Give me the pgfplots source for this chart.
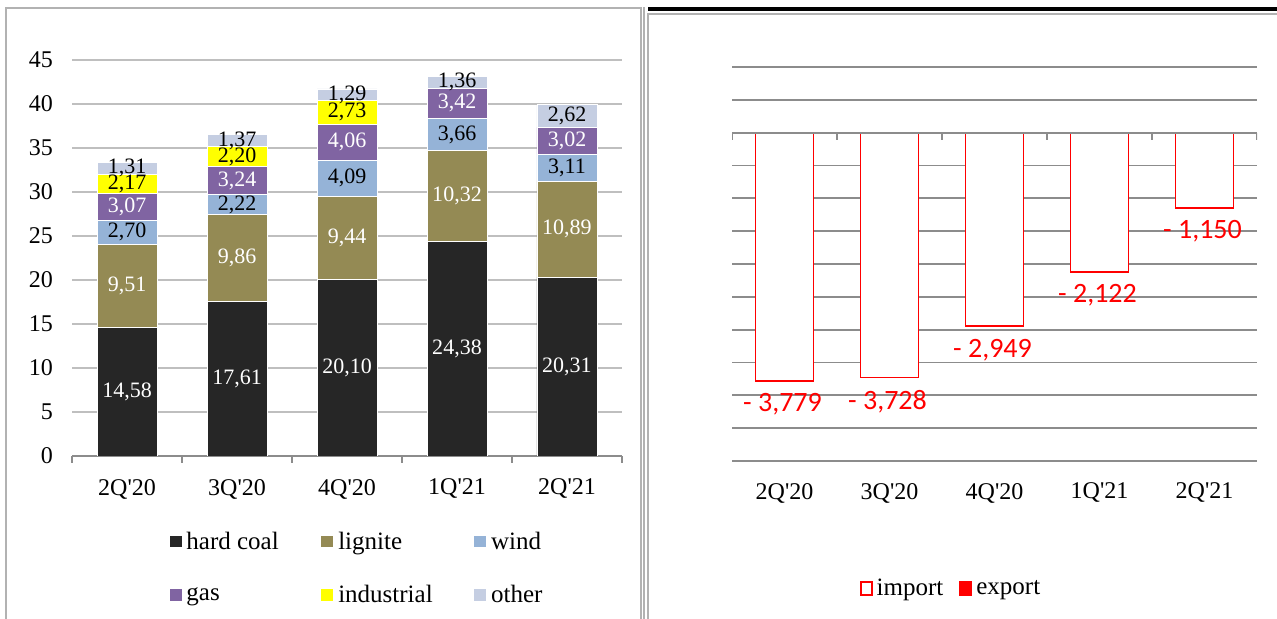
\documentclass[border=0pt]{standalone}
\usepackage{fontspec}
\setmainfont{Liberation Serif}
\newfontfamily\carlito{Carlito}
\usepackage{pgfplots}
\usepackage{pgfplotstable}
\pgfplotsset{compat=1.18}
\definecolor{hc}{HTML}{262626}
\definecolor{lig}{HTML}{948A54}
\definecolor{wind}{HTML}{95B3D7}
\definecolor{gas}{HTML}{8064A2}
\definecolor{ind}{HTML}{FFFF00}
\definecolor{oth}{HTML}{C5CEE2}
\definecolor{gridl}{HTML}{BFBFBF}
\definecolor{gridr}{HTML}{8C8C8C}

\pgfplotstableread{
x hc lig wind gas ind oth
0 14.58 9.51 2.70 3.07 2.17 1.31
1 17.61 9.86 2.22 3.24 2.20 1.37
2 20.10 9.44 4.09 4.06 2.73 1.29
3 24.38 10.32 3.66 3.42 0 1.36
4 20.31 10.89 3.11 3.02 0 2.62
}\mix

% label positions (segment midpoints) and texts
\pgfplotstableread{
x y lab
0 7.29 14,58
1 8.805 17,61
2 10.05 20,10
3 12.19 24,38
4 10.155 20,31
}\lhc
\pgfplotstableread{
x y lab
0 19.335 9,51
1 22.54 9,86
2 24.82 9,44
3 29.54 10,32
4 25.755 10,89
}\llig
\pgfplotstableread{
x y lab
0 25.44 2,70
1 28.58 2,22
2 31.585 4,09
3 36.53 3,66
4 32.755 3,11
}\lwind
\pgfplotstableread{
x y lab
0 28.325 3,07
1 31.31 3,24
2 35.66 4,06
3 40.07 3,42
4 35.82 3,02
}\lgas
\pgfplotstableread{
x y lab
0 30.945 2,17
1 34.03 2,20
2 39.055 2,73
}\lind
\pgfplotstableread{
x y lab
0 32.685 1,31
1 35.815 1,37
2 41.065 1,29
3 42.46 1,36
4 38.64 2,62
}\loth

\pgfplotstableread{
x imp lab
0 -3779 {- 3,779}
1 -3728 {- 3,728}
2 -2949 {- 2,949}
3 -2122 {- 2,122}
4 -1150 {- 1,150}
}\trade

\newcommand{\q}{\textquotesingle}

\begin{document}
\begin{tikzpicture}
% ---------------- left chart ----------------
\begin{axis}[
  at={(36pt,81.5pt)}, anchor=south west,
  scale only axis, width=275pt, height=198pt,
  xmin=-0.5, xmax=4.5, ymin=0, ymax=45,
  ybar stacked, bar width=30pt,
  ytick={0,5,...,45},
  xtick={0,...,4},
  xticklabels={2Q\q20,3Q\q20,4Q\q20,1Q\q21,2Q\q21},
  minor xtick={-0.5,0.5,...,4.5},
  major tick length=0pt, minor tick length=3.5pt,
  tick align=outside,
  axis lines*=left,
  x axis line style={draw=gridr, line width=0.8pt},
  y axis line style={draw=none},
  ytick style={draw=none},
  xtick style={draw=gridr, line width=0.8pt},
  ymajorgrids, grid style={draw=gridl, line width=0.9pt},
  /pgf/number format/assume math mode=true,
  tick label style={font=\fontsize{12}{14}\selectfont},
  yticklabel style={xshift=-6pt},
  xticklabel style={yshift=-8pt},
  legend style={at={(0.175,-0.18)}, anchor=north west, draw=none,
    font=\fontsize{12.5}{14}\selectfont, legend columns=3, row sep=12.5pt,
    inner sep=0pt},
  legend cell align=left,
  legend image code/.code={\fill[#1] (0pt,-3pt) rectangle (6.5pt,3.3pt);},
  every axis plot/.append style={draw=white, line width=0.4pt},
]
\addplot[fill=hc] table[x=x,y=hc] {\mix};
\addplot[fill=lig] table[x=x,y=lig] {\mix};
\addplot[fill=wind] table[x=x,y=wind] {\mix};
\addplot[fill=gas] table[x=x,y=gas] {\mix};
\addplot[fill=ind] table[x=x,y=ind] {\mix};
\addplot[fill=oth] table[x=x,y=oth] {\mix};
\legend{\makebox[65pt][l]{hard coal},\makebox[65.5pt][l]{lignite},\makebox[50pt][l]{wind},
        \makebox[65pt][l]{gas},\makebox[65.5pt][l]{industrial},\makebox[50pt][l]{other}}
\end{axis}
% labels overlay
\begin{axis}[
  at={(36pt,81.5pt)}, anchor=south west,
  scale only axis, width=275pt, height=198pt,
  xmin=-0.5, xmax=4.5, ymin=0, ymax=45,
  hide axis,
  nodes near coords, point meta=explicit symbolic,
  every node near coord/.append style={anchor=center, font=\fontsize{11}{12}\selectfont, inner sep=0pt},
]
\addplot[draw=none, nodes near coords style={text=white}] table[x=x,y=y,meta=lab] {\lhc};
\addplot[draw=none, nodes near coords style={text=white}] table[x=x,y=y,meta=lab] {\llig};
\addplot[draw=none, nodes near coords style={text=black}] table[x=x,y=y,meta=lab] {\lwind};
\addplot[draw=none, nodes near coords style={text=white}] table[x=x,y=y,meta=lab] {\lgas};
\addplot[draw=none, nodes near coords style={text=black}] table[x=x,y=y,meta=lab] {\lind};
\addplot[draw=none, nodes near coords style={text=black}] table[x=x,y=y,meta=lab] {\loth};
\end{axis}

% ---------------- right chart ----------------
\begin{axis}[
  at={(366pt,79pt)}, anchor=south west,
  scale only axis, width=262.5pt, height=197pt,
  xmin=-0.5, xmax=4.5, ymin=-5000, ymax=1000,
  ybar, bar width=29pt,
  ytick={-5000,-4500,...,1000}, yticklabels={},
  ymajorgrids, grid style={draw=gridr, line width=0.9pt},
  axis line style={draw=none},
  major tick length=0pt,
  xtick={0,...,4},
  xticklabels={2Q\q20,3Q\q20,4Q\q20,1Q\q21,2Q\q21},
  /pgf/number format/assume math mode=true,
  tick label style={font=\fontsize{12}{14}\selectfont},
  xticklabel style={yshift=-7.5pt},
  nodes near coords, point meta=explicit symbolic,
  every node near coord/.append style={font=\carlito\fontsize{14}{16}\selectfont, text=red, anchor=north, yshift=-2.5pt, xshift=-1pt},
  legend style={at={(0.419,-0.325)}, anchor=center, draw=none,
    font=\fontsize{12.5}{14}\selectfont, legend columns=2, inner sep=0pt,
    /tikz/every even column/.append style={column sep=6pt}},
  legend image code/.code={\draw[#1] (0.4pt,-3pt) rectangle (6pt,3.4pt);},
]
\addplot[draw=red, fill=white, line width=0.9pt] table[x=x,y=imp,meta=lab] {\trade};
\addlegendentry{import}
\addlegendimage{draw=red, fill=red, line width=0.9pt}
\addlegendentry{export}
\draw[gridr, line width=0.9pt] (axis cs:-0.5,0) -- (axis cs:4.5,0);
\draw[gridr, line width=0.8pt] (axis cs:-0.5,0) -- ++(0pt,-3.5pt);
\draw[gridr, line width=0.8pt] (axis cs:0.5,0) -- ++(0pt,-3.5pt);
\draw[gridr, line width=0.8pt] (axis cs:1.5,0) -- ++(0pt,-3.5pt);
\draw[gridr, line width=0.8pt] (axis cs:2.5,0) -- ++(0pt,-3.5pt);
\draw[gridr, line width=0.8pt] (axis cs:3.5,0) -- ++(0pt,-3.5pt);
\draw[gridr, line width=0.8pt] (axis cs:4.5,0) -- ++(0pt,-3.5pt);
\end{axis}

% ---------------- frames ----------------
\draw[gray!60, line width=0.8pt] (3pt,-5pt) -- (3pt,305.5pt) -- (320.5pt,305.5pt) -- (320.5pt,-5pt);
\draw[gray!60, line width=0.6pt] (322pt,-5pt) -- (322pt,306pt);
\draw[gray!60, line width=0.6pt] (324pt,-5pt) -- (324pt,302.5pt) -- (640pt,302.5pt);
\draw[black, line width=2pt] (324pt,304.8pt) -- (640pt,304.8pt);

\pgfresetboundingbox
\useasboundingbox (0,0) rectangle (638.5pt,309.5pt);
\end{tikzpicture}
\end{document}
